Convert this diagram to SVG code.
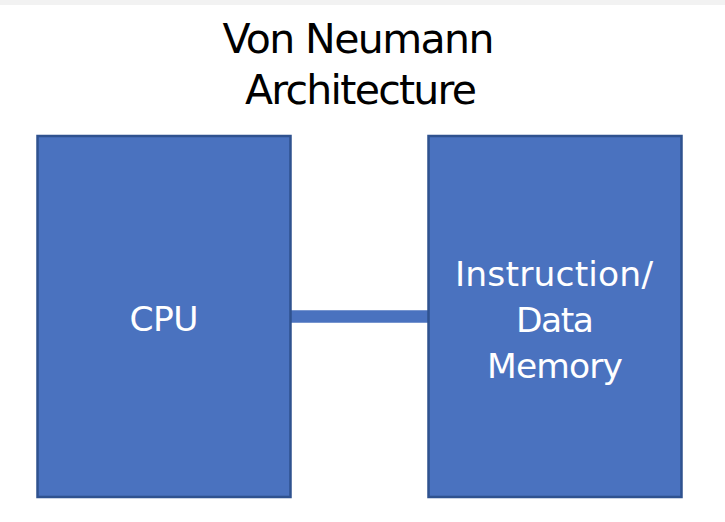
<svg xmlns="http://www.w3.org/2000/svg" width="725" height="522" viewBox="0 0 725 522">
<style>
.box{fill:#4a72bf;stroke:#2f528f;stroke-width:2.5}
.t{font-family:"DejaVu Sans","Liberation Sans",sans-serif;text-anchor:middle}
.title{font-size:41px;fill:#000}
.lbl{font-size:34.5px;fill:#fff}
</style>
<rect x="0" y="0" width="725" height="522" fill="#fff"/>
<rect x="0" y="0" width="725" height="5" fill="#f2f2f2"/>
<g id="title">
<text class="t title" x="358.5" y="53" textLength="272">Von Neumann</text>
<text class="t title" x="361" y="104" textLength="232">Architecture</text>
</g>
<g id="connectors">
<line x1="291" y1="316.5" x2="428" y2="316.5" stroke="#4a72bf" stroke-width="12.5"/>
</g>
<g id="cpu">
<rect class="box" x="37.5" y="136" width="253" height="361"/>
<text class="t lbl" x="164" y="331" textLength="69">CPU</text>
</g>
<g id="memory">
<rect class="box" x="428.5" y="136" width="253" height="361"/>
<text class="t lbl" x="554" y="286" textLength="198">Instruction/</text>
<text class="t lbl" x="555" y="332" textLength="78">Data</text>
<text class="t lbl" x="555" y="378" textLength="136">Memory</text>
</g>
</svg>
